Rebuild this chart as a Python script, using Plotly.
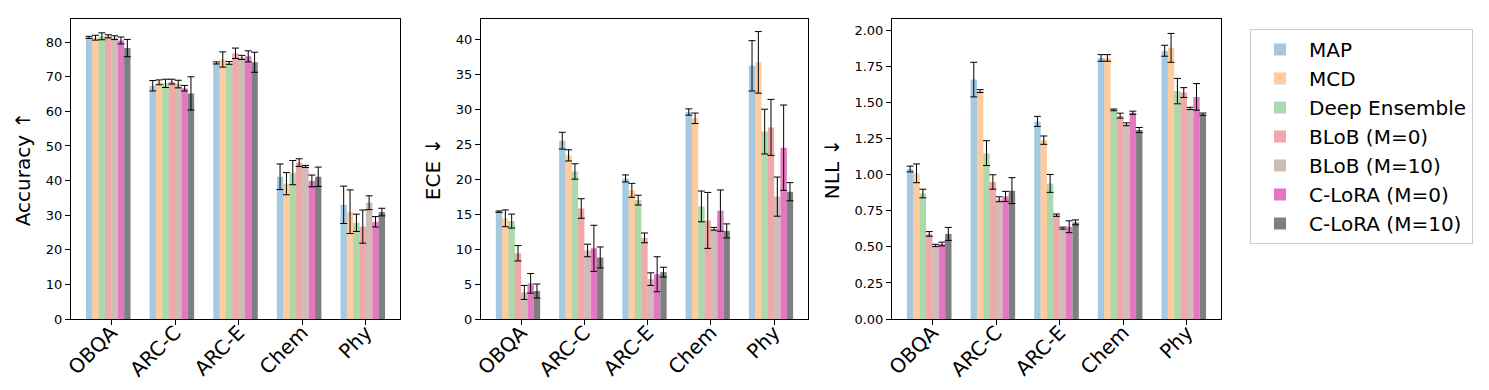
import plotly.graph_objects as go

categories = ["OBQA", "ARC-C", "ARC-E", "Chem", "Phy"]
methods = ["MAP", "MCD", "Deep Ensemble", "BLoB (M=0)", "BLoB (M=10)", "C-LoRA (M=0)", "C-LoRA (M=10)"]

acc_mean = {
    "MAP": [81.4, 67.4, 74.0, 41.1, 33.0],
    "MCD": [81.3, 68.4, 75.0, 39.1, 31.0],
    "Deep Ensemble": [81.7, 68.1, 74.0, 42.3, 27.8],
    "BLoB (M=0)": [81.7, 68.6, 76.8, 45.2, 26.7],
    "BLoB (M=10)": [81.3, 67.9, 75.6, 44.1, 33.6],
    "C-LoRA (M=0)": [80.5, 66.7, 75.9, 39.9, 28.1],
    "C-LoRA (M=10)": [78.3, 65.2, 74.2, 41.1, 30.9],
}
acc_std = {
    "MAP": [0.3, 1.5, 0.3, 3.7, 5.4],
    "MCD": [0.7, 0.7, 2.2, 3.2, 6.3],
    "Deep Ensemble": [1.0, 1.2, 0.4, 3.5, 2.5],
    "BLoB (M=0)": [0.45, 0.7, 1.5, 1.1, 4.8],
    "BLoB (M=10)": [0.55, 1.1, 0.6, 0.3, 2.0],
    "C-LoRA (M=0)": [1.0, 0.8, 1.6, 1.7, 1.5],
    "C-LoRA (M=10)": [2.5, 4.8, 2.9, 2.8, 1.1],
}
ece_mean = {
    "MAP": [15.35, 25.5, 20.1, 29.6, 36.2],
    "MCD": [14.4, 23.4, 18.4, 28.7, 36.7],
    "Deep Ensemble": [14.0, 21.1, 17.0, 16.1, 26.8],
    "BLoB (M=0)": [9.4, 15.8, 11.6, 14.1, 27.4],
    "BLoB (M=10)": [3.8, 9.8, 5.7, 12.9, 17.5],
    "C-LoRA (M=0)": [5.1, 10.1, 6.4, 15.5, 24.5],
    "C-LoRA (M=10)": [4.0, 8.8, 6.7, 12.6, 18.2],
}
ece_std = {
    "MAP": [0.1, 1.2, 0.5, 0.45, 3.6],
    "MCD": [1.2, 0.8, 1.0, 0.75, 4.4],
    "Deep Ensemble": [1.0, 1.1, 0.7, 2.2, 3.2],
    "BLoB (M=0)": [1.1, 1.4, 0.7, 4.0, 4.0],
    "BLoB (M=10)": [1.0, 0.9, 0.9, 0.2, 2.8],
    "C-LoRA (M=0)": [1.4, 3.3, 2.5, 2.95, 6.1],
    "C-LoRA (M=10)": [1.0, 1.5, 0.7, 1.0, 1.3],
}
nll_mean = {
    "MAP": [1.04, 1.66, 1.37, 1.81, 1.86],
    "MCD": [1.01, 1.58, 1.24, 1.81, 1.88],
    "Deep Ensemble": [0.87, 1.15, 0.94, 1.45, 1.58],
    "BLoB (M=0)": [0.59, 0.95, 0.72, 1.41, 1.57],
    "BLoB (M=10)": [0.51, 0.83, 0.63, 1.35, 1.46],
    "C-LoRA (M=0)": [0.52, 0.85, 0.64, 1.43, 1.54],
    "C-LoRA (M=10)": [0.59, 0.89, 0.67, 1.31, 1.42],
}
nll_std = {
    "MAP": [0.02, 0.12, 0.035, 0.023, 0.038],
    "MCD": [0.065, 0.01, 0.029, 0.023, 0.10],
    "Deep Ensemble": [0.03, 0.086, 0.062, 0.006, 0.088],
    "BLoB (M=0)": [0.016, 0.05, 0.008, 0.017, 0.034],
    "BLoB (M=10)": [0.008, 0.017, 0.007, 0.01, 0.008],
    "C-LoRA (M=0)": [0.013, 0.035, 0.041, 0.011, 0.092],
    "C-LoRA (M=10)": [0.045, 0.09, 0.017, 0.018, 0.008],
}

colors = {
    "MAP": "rgba(31,119,180,0.4)",
    "MCD": "rgba(255,127,14,0.4)",
    "Deep Ensemble": "rgba(44,160,44,0.4)",
    "BLoB (M=0)": "rgba(214,39,40,0.4)",
    "BLoB (M=10)": "rgba(140,86,75,0.4)",
    "C-LoRA (M=0)": "rgb(227,119,194)",
    "C-LoRA (M=10)": "rgb(127,127,127)",
}

panels = [
    ("Accuracy ↑", acc_mean, acc_std, 86.7, list(range(0, 81, 10)), [str(v) for v in range(0, 81, 10)]),
    ("ECE ↓", ece_mean, ece_std, 42.9, list(range(0, 41, 5)), [str(v) for v in range(0, 41, 5)]),
    ("NLL ↓", nll_mean, nll_std, 2.08, [i * 0.25 for i in range(9)], ["%.2f" % (i * 0.25) for i in range(9)]),
]

W, H = 1489, 390
ml, mr, mt, mb = 63, 276, 11, 79
pw = W - ml - mr
ax_px = [(63, 392), (473, 800), (884, 1213)]
domains = [((a - ml) / pw, (b - ml) / pw) for a, b in ax_px]

bar_w = 0.1
n = len(methods)
groups = list(range(len(categories)))

fig = go.Figure()
font_family = "DejaVu Sans"

for p, (title, means, stds, ytop, tv, tt) in enumerate(panels):
    xa = "x" if p == 0 else "x%d" % (p + 1)
    ya = "y" if p == 0 else "y%d" % (p + 1)
    for i, m in enumerate(methods):
        xs = [g + (i - (n - 1) / 2) * bar_w for g in groups]
        fig.add_trace(go.Bar(
            x=xs, y=means[m], width=bar_w,
            marker=dict(color=colors[m], line=dict(width=0)),
            error_y=dict(type="data", array=stds[m], visible=True,
                         color="black", thickness=1, width=3.5),
            name=m, legendgroup=m, showlegend=(p == 0),
            xaxis=xa, yaxis=ya,
        ))
    axis_common = dict(showline=True, linecolor="black", linewidth=1, mirror=True,
                       showgrid=False, zeroline=False, ticks="outside", ticklen=5,
                       tickcolor="black")
    xk = "xaxis" if p == 0 else "xaxis%d" % (p + 1)
    yk = "yaxis" if p == 0 else "yaxis%d" % (p + 1)
    fig.layout[xk] = dict(
        domain=list(domains[p]), anchor=ya, range=[-0.585, 4.585],
        tickmode="array", tickvals=[g + 0.05 for g in groups], ticktext=categories,
        tickangle=-45, ticklabelstandoff=-12,
        tickfont=dict(size=20, color="black", family=font_family),
        **axis_common,
    )
    fig.layout[yk] = dict(
        domain=[0, 1], anchor=xa, range=[0, ytop],
        tickmode="array", tickvals=tv, ticktext=tt,
        tickfont=dict(size=13, color="black", family=font_family),
        title=dict(text=title, font=dict(size=20, color="black", family=font_family), standoff=9),
        **axis_common,
    )

fig.update_layout(
    width=W, height=H,
    margin=dict(l=ml, r=mr, t=mt, b=mb, autoexpand=False),
    barmode="overlay",
    plot_bgcolor="white", paper_bgcolor="white",
    font=dict(family=font_family, color="black"),
    legend=dict(x=(1242 - ml) / pw, y=(311 - 21) / 300, xanchor="left", yanchor="top",
                font=dict(size=20, family=font_family, color="black"),
                bordercolor="#cccccc", borderwidth=1, bgcolor="white",
                tracegroupgap=0, itemwidth=48),
)

fig.write_html("out.html")
